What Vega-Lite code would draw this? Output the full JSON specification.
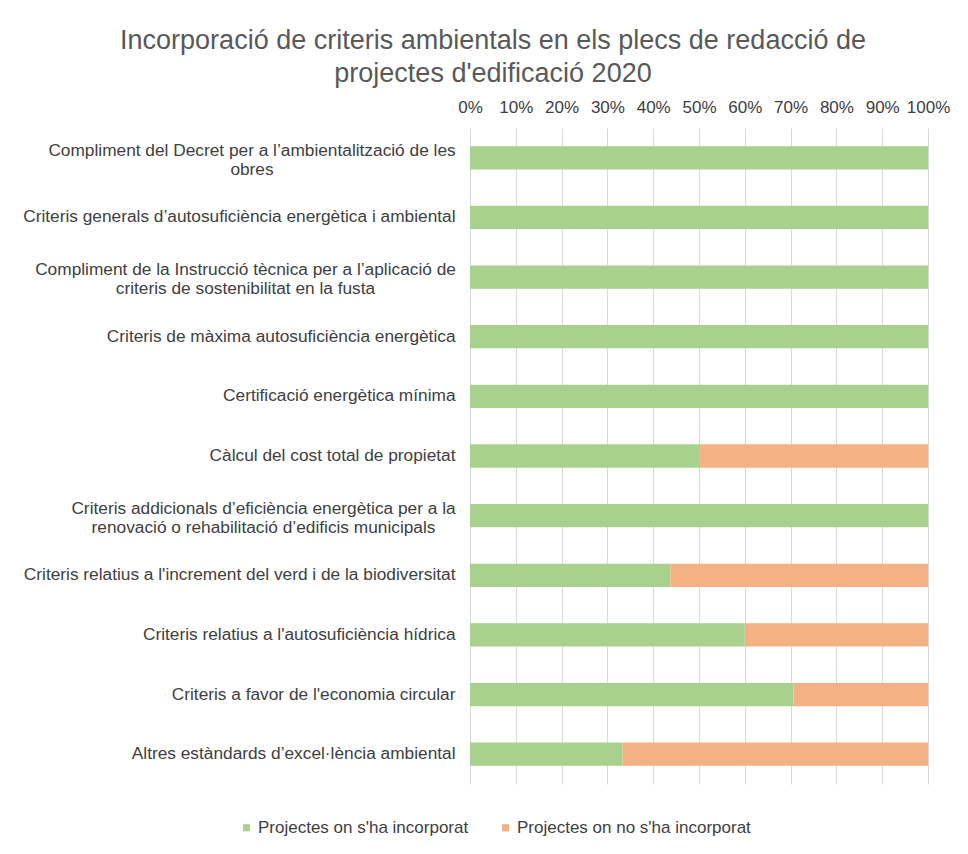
{
  "$schema": "https://vega.github.io/schema/vega-lite/v6.json",
  "autosize": "none",
  "width": 458,
  "height": 656,
  "padding": {"left": 470, "top": 128, "right": 40, "bottom": 70},
  "background": "white",
  "title": {
    "text": ["Incorporació de criteris ambientals en els plecs de redacció de", "projectes d'edificació 2020"],
    "anchor": "middle",
    "frame": "group",
    "dx": -206,
    "offset": 10,
    "fontSize": 27,
    "font": "Liberation Sans",
    "fontWeight": "normal",
    "color": "#595959",
    "lineHeight": 33
  },
  "data": {
    "values": [
      {"criteri": "Compliment del Decret per a l’ambientalització de les|obres", "series": "Projectes on s'ha incorporat", "pct": 100},
      {"criteri": "Compliment del Decret per a l’ambientalització de les|obres", "series": "Projectes on no s'ha incorporat", "pct": 0},
      {"criteri": "Criteris generals d’autosuficiència energètica i ambiental", "series": "Projectes on s'ha incorporat", "pct": 100},
      {"criteri": "Criteris generals d’autosuficiència energètica i ambiental", "series": "Projectes on no s'ha incorporat", "pct": 0},
      {"criteri": "Compliment de la Instrucció tècnica per a l’aplicació de|criteris de sostenibilitat en la fusta", "series": "Projectes on s'ha incorporat", "pct": 100},
      {"criteri": "Compliment de la Instrucció tècnica per a l’aplicació de|criteris de sostenibilitat en la fusta", "series": "Projectes on no s'ha incorporat", "pct": 0},
      {"criteri": "Criteris de màxima autosuficiència energètica", "series": "Projectes on s'ha incorporat", "pct": 100},
      {"criteri": "Criteris de màxima autosuficiència energètica", "series": "Projectes on no s'ha incorporat", "pct": 0},
      {"criteri": "Certificació energètica mínima", "series": "Projectes on s'ha incorporat", "pct": 100},
      {"criteri": "Certificació energètica mínima", "series": "Projectes on no s'ha incorporat", "pct": 0},
      {"criteri": "Càlcul del cost total de propietat", "series": "Projectes on s'ha incorporat", "pct": 50},
      {"criteri": "Càlcul del cost total de propietat", "series": "Projectes on no s'ha incorporat", "pct": 50},
      {"criteri": "Criteris addicionals d’eficiència energètica per a la|renovació o rehabilitació d’edificis municipals", "series": "Projectes on s'ha incorporat", "pct": 100},
      {"criteri": "Criteris addicionals d’eficiència energètica per a la|renovació o rehabilitació d’edificis municipals", "series": "Projectes on no s'ha incorporat", "pct": 0},
      {"criteri": "Criteris relatius a l'increment del verd i de la biodiversitat", "series": "Projectes on s'ha incorporat", "pct": 43.75},
      {"criteri": "Criteris relatius a l'increment del verd i de la biodiversitat", "series": "Projectes on no s'ha incorporat", "pct": 56.25},
      {"criteri": "Criteris relatius a l'autosuficiència hídrica", "series": "Projectes on s'ha incorporat", "pct": 60},
      {"criteri": "Criteris relatius a l'autosuficiència hídrica", "series": "Projectes on no s'ha incorporat", "pct": 40},
      {"criteri": "Criteris a favor de l'economia circular", "series": "Projectes on s'ha incorporat", "pct": 70.6},
      {"criteri": "Criteris a favor de l'economia circular", "series": "Projectes on no s'ha incorporat", "pct": 29.4},
      {"criteri": "Altres estàndards d’excel·lència ambiental", "series": "Projectes on s'ha incorporat", "pct": 33.3},
      {"criteri": "Altres estàndards d’excel·lència ambiental", "series": "Projectes on no s'ha incorporat", "pct": 66.7}
    ]
  },
  "mark": {"type": "bar"},
  "encoding": {
    "y": {
      "field": "criteri",
      "type": "nominal",
      "sort": null,
      "scale": {"paddingInner": 0.61, "paddingOuter": 0.305},
      "axis": {
        "title": null,
        "ticks": false,
        "domain": false,
        "labelExpr": "split(datum.label, '|')",
        "labelFontSize": 17.3,
        "labelFont": "Liberation Sans",
        "labelColor": "#404040",
        "labelPadding": {
          "condition": [
            {"test": "indexof(datum.value, 'Decret') >= 0", "value": 218.5},
            {"test": "indexof(datum.value, 'Instrucció') >= 0", "value": 225},
            {"test": "indexof(datum.value, 'addicionals') >= 0", "value": 207}
          ],
          "value": 15
        },
        "labelLimit": 470,
        "labelLineHeight": 19,
        "labelOffset": {"condition": {"test": "indexof(datum.value, '|') >= 0", "value": -7}, "value": 0},
        "labelAlign": {"condition": {"test": "indexof(datum.value, '|') >= 0", "value": "center"}, "value": "right"}
      }
    },
    "x": {
      "field": "pct",
      "type": "quantitative",
      "stack": "zero",
      "scale": {"domain": [0, 100], "nice": false},
      "axis": {
        "orient": "top",
        "title": null,
        "values": [0, 10, 20, 30, 40, 50, 60, 70, 80, 90, 100],
        "labelExpr": "datum.value + '%'",
        "ticks": false,
        "domain": false,
        "grid": true,
        "gridColor": "#d9d9d9",
        "gridWidth": 1,
        "labelFontSize": 17,
        "labelFont": "Liberation Sans",
        "labelColor": "#404040",
        "labelPadding": 12,
        "labelFlush": false
      }
    },
    "color": {
      "field": "series",
      "type": "nominal",
      "scale": {
        "domain": ["Projectes on s'ha incorporat", "Projectes on no s'ha incorporat"],
        "range": ["#a9d18e", "#f4b183"]
      },
      "legend": {
        "title": null,
        "orient": "none",
        "legendX": -232,
        "legendY": 691,
        "direction": "horizontal",
        "symbolType": "square",
        "symbolSize": 50,
        "symbolStrokeWidth": 0,
        "labelFontSize": 17,
        "labelFont": "Liberation Sans",
        "labelColor": "#404040",
        "labelOffset": 3,
        "columnPadding": 28,
        "labelLimit": 400
      }
    },
    "order": {"field": "series", "sort": "descending"}
  },
  "config": {"view": {"stroke": null}}
}
